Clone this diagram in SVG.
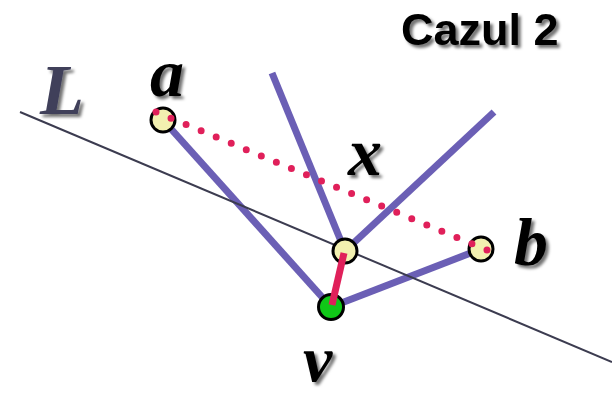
<svg xmlns="http://www.w3.org/2000/svg" width="612" height="395" viewBox="0 0 612 395">
<defs>
<filter id="sh" x="-20%" y="-20%" width="150%" height="150%">
<feDropShadow dx="3" dy="3" stdDeviation="1.8" flood-color="#000" flood-opacity="0.55"/>
</filter>
</defs>
<style>
.edge{stroke:#6b5fb5;stroke-width:7;fill:none;stroke-linecap:butt}
.lbl{font-family:"Liberation Serif","Times New Roman",serif;font-style:italic;font-weight:bold;fill:#000;filter:url(#sh)}
.pt{fill:#f2f0b0;stroke:#000;stroke-width:3}
</style>
<rect width="612" height="395" fill="#fff"/>
<g id="connectors">
<line class="edge" x1="163" y1="120" x2="331" y2="307"/>
<line class="edge" x1="331" y1="307" x2="481" y2="249"/>
<line class="edge" x1="272" y1="73" x2="345" y2="251"/>
<line class="edge" x1="345" y1="251" x2="494" y2="112"/>
<line id="lineL" x1="20" y1="112" x2="612" y2="362" stroke="#3c3c50" stroke-width="2"/>
</g>
<g id="node-a"><circle class="pt" cx="163" cy="120" r="12"/><text class="lbl" x="150" y="96" font-size="68">a</text></g>
<g id="node-b"><circle class="pt" cx="481" cy="249" r="12"/><text class="lbl" x="514" y="265" font-size="68">b</text></g>
<g id="node-x"><circle class="pt" cx="345" cy="251" r="12"/><text class="lbl" x="348" y="175" font-size="68">x</text></g>
<g id="node-v"><circle cx="331" cy="307" r="12.5" fill="#10c818" stroke="#000" stroke-width="3"/><text class="lbl" x="303" y="381" font-size="66">v</text></g>
<g id="red">
<line x1="344" y1="253" x2="332" y2="305" stroke="#e0205a" stroke-width="7"/>
<line x1="156" y1="112" x2="487" y2="250" stroke="#e0205a" stroke-width="7" stroke-linecap="round" stroke-dasharray="0 16.3"/>
</g>
<g id="label-L"><text x="40" y="114" font-family="Liberation Serif,serif" font-style="italic" font-weight="bold" font-size="72" fill="#40405a" filter="url(#sh)">L</text></g>
<g id="title"><text x="401" y="45" font-family="Liberation Sans,Arial,sans-serif" font-weight="bold" font-size="45" fill="#000" filter="url(#sh)">Cazul 2</text></g>
</svg>
